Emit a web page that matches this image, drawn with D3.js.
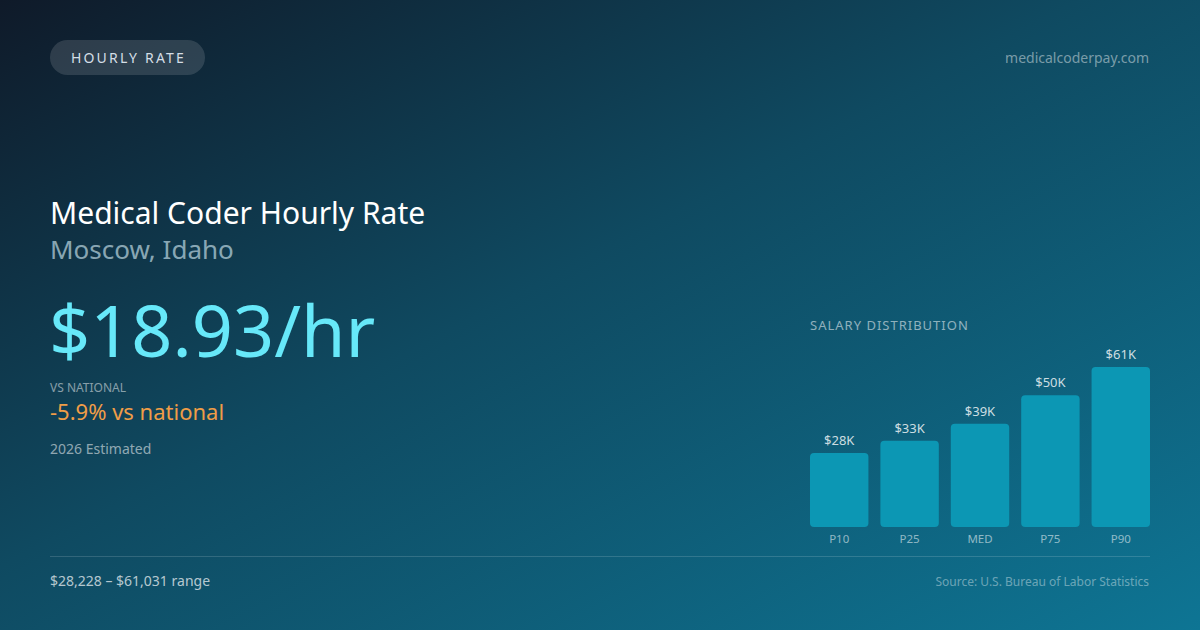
<!DOCTYPE html>
<html>
<head>
<meta charset="utf-8">
<script src="https://cdn.jsdelivr.net/npm/d3@7"></script>
<style>
  html, body { margin: 0; padding: 0; background: #0f1e2d; }
  svg { display: block; font-family: "Noto Sans", "Open Sans", sans-serif; }
</style>
</head>
<body>
<svg id="card" width="1200" height="630"></svg>
<script>
// salary percentiles (annual, USD)
const percentiles = ['P10', 'P25', 'MED', 'P75', 'P90'];
const salaries = [28228, 32900, 39374, 50300, 61031];
const valueLabels = ['$28K', '$33K', '$39K', '$50K', '$61K'];

const hourlyRate = '$18.93/hr';
const vsNational = '-5.9% vs national';
const rangeText = '$28,228 – $61,031 range';

const svg = d3.select('#card');

/*
 *  Background: diagonal gradient dark navy -> teal
 */
const defs = svg.append('defs');
const grad = defs.append('linearGradient')
    .attr('id', 'bg')
    .attr('x1', '0%').attr('y1', '0%')
    .attr('x2', '100%').attr('y2', '100%');
grad.append('stop').attr('offset', '0%').attr('stop-color', '#0f1a29');
grad.append('stop').attr('offset', '45%').attr('stop-color', '#0f4a61');
grad.append('stop').attr('offset', '100%').attr('stop-color', '#0e7594');

svg.append('rect')
    .attr('width', 1200).attr('height', 630)
    .attr('fill', 'url(#bg)');

// pill badge
svg.append('rect')
    .attr('x', 50).attr('y', 40)
    .attr('width', 155).attr('height', 35)
    .attr('rx', 17.5)
    .attr('fill', 'rgba(255,255,255,0.13)');
svg.append('text')
    .attr('x', 128.5).attr('y', 63)
    .attr('text-anchor', 'middle')
    .attr('font-size', 14)
    .attr('letter-spacing', 2.2)
    .attr('fill', '#d4dee6')
    .text('HOURLY RATE');

svg.append('text')
    .attr('x', 1149).attr('y', 63)
    .attr('text-anchor', 'end')
    .attr('font-size', 14)
    .attr('fill', 'rgba(255,255,255,0.45)')
    .text('medicalcoderpay.com');

// headings
svg.append('text')
    .attr('x', 50).attr('y', 224)
    .attr('font-size', 30)
    .attr('fill', '#ffffff')
    .text('Medical Coder Hourly Rate');
svg.append('text')
    .attr('x', 50).attr('y', 259)
    .attr('font-size', 26)
    .attr('fill', 'rgba(200,225,235,0.68)')
    .text('Moscow, Idaho');

svg.append('text')
    .attr('x', 49).attr('y', 357)
    .attr('font-size', 72)
    .attr('fill', '#67e8f9')
    .text(hourlyRate);

svg.append('text')
    .attr('x', 50).attr('y', 392)
    .attr('font-size', 12)
    .attr('fill', 'rgba(255,255,255,0.5)')
    .text('VS NATIONAL');
svg.append('text')
    .attr('x', 50).attr('y', 420)
    .attr('font-size', 22)
    .attr('fill', '#f09d47')
    .text(vsNational);
svg.append('text')
    .attr('x', 50).attr('y', 454)
    .attr('font-size', 14)
    .attr('fill', 'rgba(255,255,255,0.55)')
    .text('2026 Estimated');

/*
 *  Salary distribution bar chart
 */
const chartLeft = 810, chartRight = 1150, chartBottom = 527;

svg.append('text')
    .attr('x', 810).attr('y', 330)
    .attr('font-size', 13)
    .attr('letter-spacing', 1)
    .attr('fill', 'rgba(255,255,255,0.55)')
    .text('SALARY DISTRIBUTION');

const x = d3.scaleBand()
    .domain(percentiles)
    .range([chartLeft, chartRight])
    .paddingInner(0.17)
    .paddingOuter(0);

const y = d3.scaleLinear()
    .domain([0, d3.max(salaries)])
    .range([chartBottom, 367]);

const bars = svg.append('g')
    .selectAll('g')
    .data(percentiles.map((p, i) => ({ p: p, v: salaries[i], label: valueLabels[i] })))
    .join('g');

bars.append('rect')
    .attr('x', d => x(d.p))
    .attr('y', d => y(d.v))
    .attr('width', x.bandwidth())
    .attr('height', d => chartBottom - y(d.v))
    .attr('rx', 4)
    .attr('fill', '#0c97b4');

bars.append('text')
    .attr('x', d => x(d.p) + x.bandwidth() / 2)
    .attr('y', d => y(d.v) - 8)
    .attr('text-anchor', 'middle')
    .attr('font-size', 13)
    .attr('fill', 'rgba(255,255,255,0.8)')
    .text(d => d.label);

bars.append('text')
    .attr('x', d => x(d.p) + x.bandwidth() / 2)
    .attr('y', 543)
    .attr('text-anchor', 'middle')
    .attr('font-size', 11.5)
    .attr('fill', 'rgba(255,255,255,0.55)')
    .text(d => d.p);

// footer
svg.append('line')
    .attr('x1', 50).attr('x2', 1150)
    .attr('y1', 556.5).attr('y2', 556.5)
    .attr('stroke', 'rgba(255,255,255,0.15)')
    .attr('stroke-width', 1);

svg.append('text')
    .attr('x', 50).attr('y', 586)
    .attr('font-size', 14)
    .attr('fill', 'rgba(255,255,255,0.7)')
    .text(rangeText);
svg.append('text')
    .attr('x', 1149).attr('y', 586)
    .attr('text-anchor', 'end')
    .attr('font-size', 12)
    .attr('fill', 'rgba(255,255,255,0.4)')
    .text('Source: U.S. Bureau of Labor Statistics');
</script>
</body>
</html>
